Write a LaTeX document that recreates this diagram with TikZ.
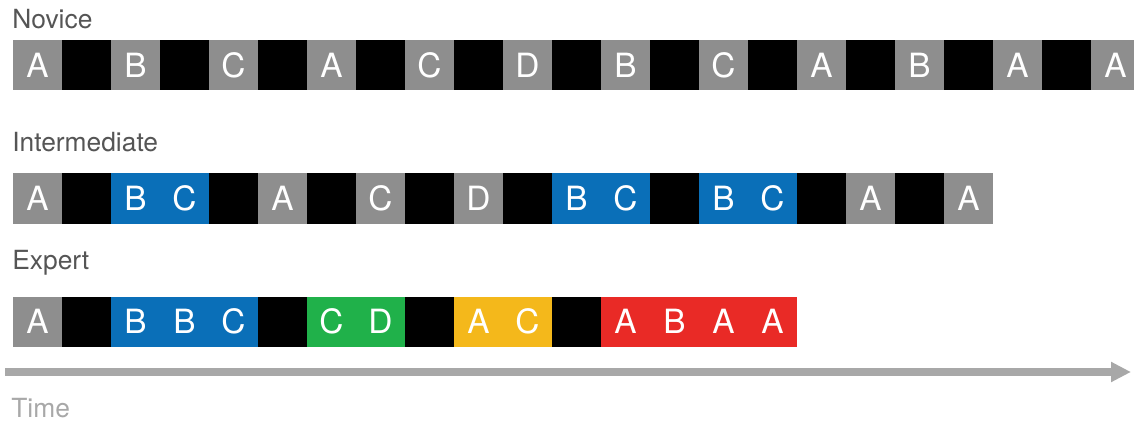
\documentclass[tikz,border=0pt]{standalone}
\usepackage{fontspec}
\setmainfont{TeX Gyre Heros}
\usepackage{xcolor}
\usepackage{tikz}
\usetikzlibrary{arrows.meta, positioning}

\definecolor{cellgrey}{HTML}{8E8E8E}
\definecolor{cellblue}{HTML}{0A6FB8}
\definecolor{cellgreen}{HTML}{20B14A}
\definecolor{cellyellow}{HTML}{F4B81B}
\definecolor{cellred}{HTML}{E92A26}
\definecolor{labelgrey}{HTML}{555555}
\definecolor{axisgrey}{HTML}{A8A8A8}

\newcommand{\slot}[1]{\makebox[0.98cm]{#1}}

\begin{document}
\begin{tikzpicture}[
    cell/.style={rectangle, inner sep=0pt, outer sep=0pt, minimum width=0.98cm, minimum height=1cm, text=white, font=\fontsize{19}{19}\selectfont},
    greybox/.style={cell, fill=cellgrey},
    gapbox/.style={cell, fill=black},
    bluebox/.style={cell, fill=cellblue},
    greenbox/.style={cell, fill=cellgreen},
    yellowbox/.style={cell, fill=cellyellow},
    redbox/.style={cell, fill=cellred},
    rowlabel/.style={anchor=base west, inner sep=0pt, text=labelgrey, font=\fontsize{15}{15}\selectfont},
    timeline/.style={draw=axisgrey, line width=0.16cm, -{Triangle[length=0.4cm, width=0.38cm]}}
]
    \useasboundingbox (0,0) rectangle (22.68,-8.46);

    % Novice row
    \node[rowlabel] (novice) at (0.24,-0.58) {Novice};
    \node[greybox, anchor=west] (n1) at (0.26,-1.3) {A};
    \node[gapbox, right=0pt of n1] (n2) {};
    \node[greybox, right=0pt of n2] (n3) {B};
    \node[gapbox, right=0pt of n3] (n4) {};
    \node[greybox, right=0pt of n4] (n5) {C};
    \node[gapbox, right=0pt of n5] (n6) {};
    \node[greybox, right=0pt of n6] (n7) {A};
    \node[gapbox, right=0pt of n7] (n8) {};
    \node[greybox, right=0pt of n8] (n9) {C};
    \node[gapbox, right=0pt of n9] (n10) {};
    \node[greybox, right=0pt of n10] (n11) {D};
    \node[gapbox, right=0pt of n11] (n12) {};
    \node[greybox, right=0pt of n12] (n13) {B};
    \node[gapbox, right=0pt of n13] (n14) {};
    \node[greybox, right=0pt of n14] (n15) {C};
    \node[gapbox, right=0pt of n15] (n16) {};
    \node[greybox, right=0pt of n16] (n17) {A};
    \node[gapbox, right=0pt of n17] (n18) {};
    \node[greybox, right=0pt of n18] (n19) {B};
    \node[gapbox, right=0pt of n19] (n20) {};
    \node[greybox, right=0pt of n20] (n21) {A};
    \node[gapbox, right=0pt of n21] (n22) {};
    \node[greybox, right=0pt of n22] (n23) {A};

    % Intermediate row
    \node[rowlabel] (intermediate) at (0.24,-3.04) {Intermediate};
    \node[greybox, anchor=west] (i1) at (0.26,-3.97) {A};
    \node[gapbox, right=0pt of i1] (i2) {};
    \node[bluebox, right=0pt of i2] (i3) {\slot{B}\slot{C}};
    \node[gapbox, right=0pt of i3] (i4) {};
    \node[greybox, right=0pt of i4] (i5) {A};
    \node[gapbox, right=0pt of i5] (i6) {};
    \node[greybox, right=0pt of i6] (i7) {C};
    \node[gapbox, right=0pt of i7] (i8) {};
    \node[greybox, right=0pt of i8] (i9) {D};
    \node[gapbox, right=0pt of i9] (i10) {};
    \node[bluebox, right=0pt of i10] (i11) {\slot{B}\slot{C}};
    \node[gapbox, right=0pt of i11] (i12) {};
    \node[bluebox, right=0pt of i12] (i13) {\slot{B}\slot{C}};
    \node[gapbox, right=0pt of i13] (i14) {};
    \node[greybox, right=0pt of i14] (i15) {A};
    \node[gapbox, right=0pt of i15] (i16) {};
    \node[greybox, right=0pt of i16] (i17) {A};

    % Expert row
    \node[rowlabel] (expert) at (0.24,-5.38) {Expert};
    \node[greybox, anchor=west] (e1) at (0.26,-6.43) {A};
    \node[gapbox, right=0pt of e1] (e2) {};
    \node[bluebox, right=0pt of e2] (e3) {\slot{B}\slot{B}\slot{C}};
    \node[gapbox, right=0pt of e3] (e4) {};
    \node[greenbox, right=0pt of e4] (e5) {\slot{C}\slot{D}};
    \node[gapbox, right=0pt of e5] (e6) {};
    \node[yellowbox, right=0pt of e6] (e7) {\slot{A}\slot{C}};
    \node[gapbox, right=0pt of e7] (e8) {};
    \node[redbox, right=0pt of e8] (e9) {\slot{A}\slot{B}\slot{A}\slot{A}};

    % Time axis
    \coordinate (t0) at (0.1,-7.44);
    \coordinate (t1) at (22.62,-7.44);
    \draw[timeline] (t0) -- (t1);
    \node[rowlabel, text=axisgrey] (time) at (0.22,-8.34) {Time};
\end{tikzpicture}
\end{document}
